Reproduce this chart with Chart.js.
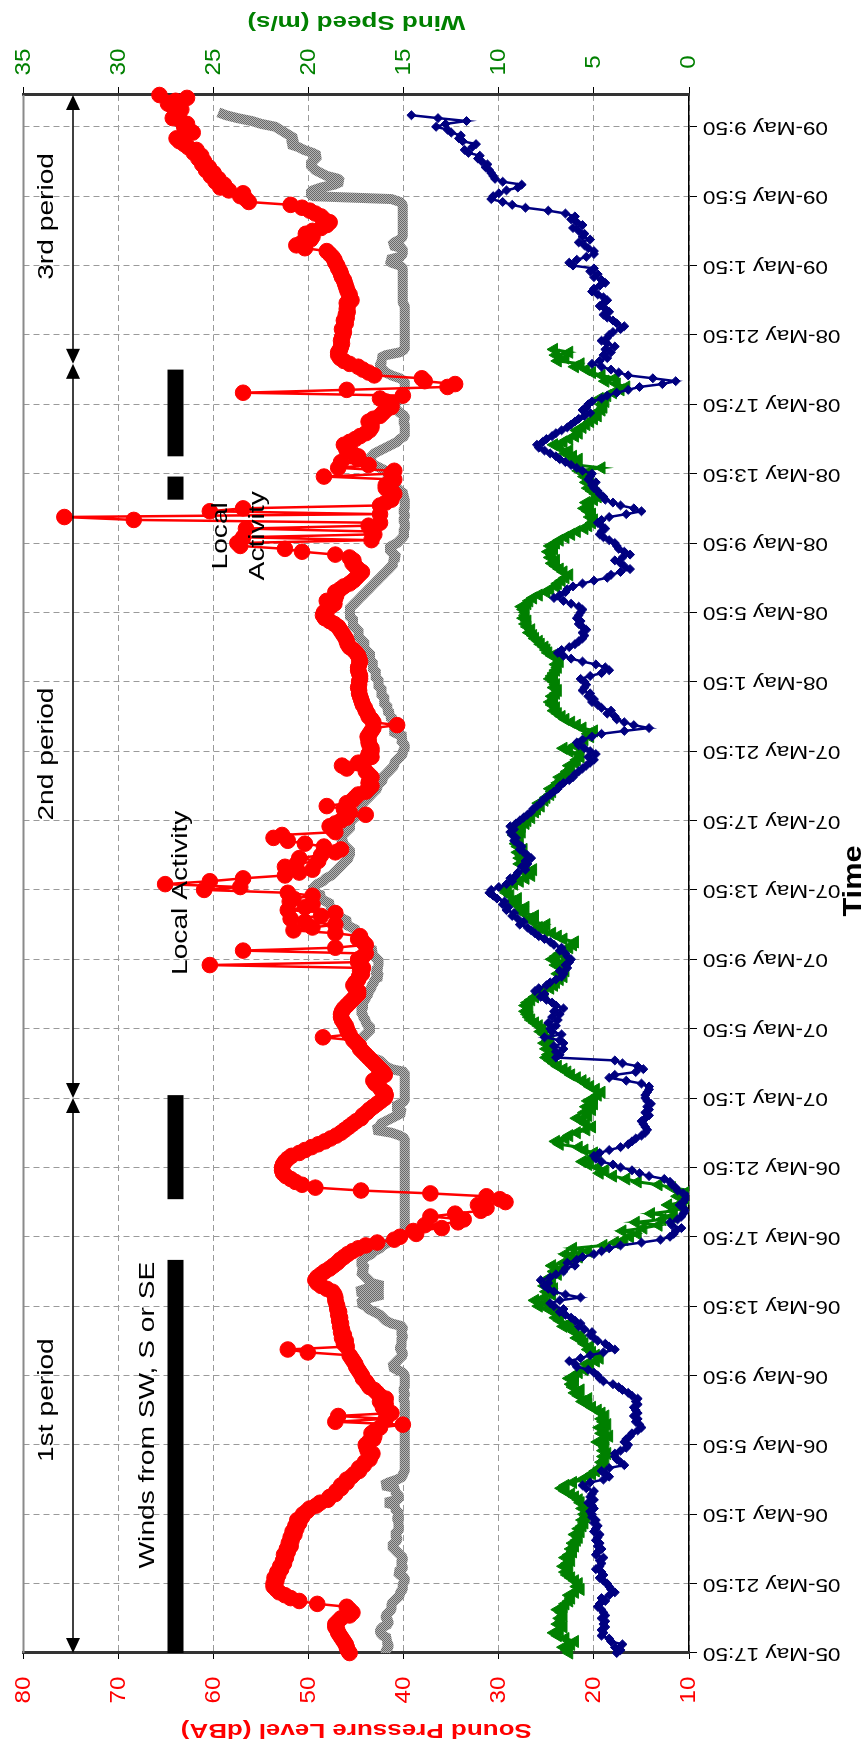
<!DOCTYPE html>
<html>
<head>
<meta charset="utf-8">
<script src="https://cdn.jsdelivr.net/npm/chart.js@4.4.1/dist/chart.umd.min.js"></script>
<style>
  html, body { margin: 0; padding: 0; background: #fff; overflow: hidden; width: 868px; height: 1752px; }
  /* chart is drawn landscape, then turned a quarter turn to the left */
  .chart-wrapper { position: absolute; left: 0; top: 0; width: 1752px; height: 868px;
    transform-origin: 0 0; transform: translateY(1752px) rotate(-90deg); }
</style>
</head>
<body>
<div class="chart-wrapper"><canvas id="myChart" width="1752" height="868"></canvas></div>
<script>
// 10-minute readings from 05-May 17:50, one row = 4 hours
const stepsPerTick = 24;
const nReadings = 540;
const tickLabels = ['05-May 17:50', '05-May 21:50', '06-May 1:50', '06-May 5:50', '06-May 9:50', '06-May 13:50',
  '06-May 17:50', '06-May 21:50', '07-May 1:50', '07-May 5:50', '07-May 9:50', '07-May 13:50', '07-May 17:50',
  '07-May 21:50', '08-May 1:50', '08-May 5:50', '08-May 9:50', '08-May 13:50', '08-May 17:50', '08-May 21:50',
  '09-May 1:50', '09-May 5:50', '09-May 9:50'];
const splTicks = [80, 70, 60, 50, 40, 30, 20, 10];
const windTicks = [35, 30, 25, 20, 15, 10, 5, 0];

// red, dBA
const soundLevel = [
  45.7,45.9,46.0,46.1,46.3,46.5,46.7,46.9,47.0,47.2,47.2,46.9,46.6,45.7,45.4,45.7,46.0,49.1,51.0,51.9,52.5,53.1,53.4,53.7,
  53.7,53.4,53.6,53.2,53.3,52.9,53.0,52.6,52.7,52.4,52.6,52.2,52.3,51.9,52.1,51.8,51.9,51.5,51.7,51.3,51.4,51.0,51.2,50.7,
  50.6,50.2,49.9,49.2,48.8,48.0,47.8,47.2,47.1,46.6,46.6,46.0,46.0,45.5,45.2,44.7,44.7,44.2,44.1,43.6,43.5,43.3,43.8,43.9,
  44.0,43.7,43.2,43.1,43.4,43.0,42.5,40.1,47.2,41.9,46.9,41.3,41.9,42.2,41.9,42.5,41.9,42.5,42.8,43.1,43.6,43.8,44.0,44.3,
  44.4,44.6,44.8,45.0,45.1,45.3,45.5,45.7,50.1,52.2,46.0,46.3,46.1,46.5,46.3,46.6,46.5,46.7,46.6,46.8,46.7,46.9,46.8,47.0,
  47.0,47.1,47.2,47.2,47.3,47.5,48.1,48.7,49.1,49.3,49.1,48.7,48.3,47.8,47.4,47.0,46.7,46.3,45.9,45.4,44.8,44.0,42.8,41.0,
  40.4,38.7,39.0,36.0,37.8,34.3,33.7,37.2,34.6,31.9,31.3,32.2,29.3,29.9,31.3,37.2,44.5,49.3,50.7,51.4,51.9,52.4,52.7,52.8,
  52.8,52.7,52.5,52.2,51.8,51.0,50.4,49.7,49.0,48.3,47.7,47.1,46.6,46.2,45.8,45.4,45.0,44.5,44.3,43.9,43.6,43.2,42.8,42.4,
  42.0,41.9,42.0,42.4,42.6,43.0,43.2,42.8,42.0,42.2,42.5,42.8,43.1,43.4,43.7,44.0,44.3,44.6,44.7,45.0,45.3,48.5,45.7,45.9,
  46.0,46.1,46.3,46.5,46.6,46.6,46.5,46.3,46.0,45.7,45.4,45.1,44.8,44.8,45.1,45.3,45.1,44.8,44.7,44.4,44.6,44.3,60.4,44.8,
  44.8,44.3,44.0,56.9,47.2,44.0,44.3,44.8,44.6,47.2,51.6,49.6,47.2,50.4,51.9,48.7,47.2,52.2,50.4,49.6,52.0,51.6,49.6,52.2,
  61.0,57.2,65.1,60.4,56.9,52.5,51.0,49.6,52.5,51.3,49.0,51.0,48.7,47.2,46.6,48.4,50.4,52.2,53.7,52.8,47.2,47.5,47.8,47.2,
  46.6,46.0,44.0,45.7,46.3,48.1,46.0,45.4,45.1,44.8,44.0,43.7,43.4,43.7,43.6,43.4,43.7,44.0,46.0,46.5,44.8,44.0,43.4,43.7,
  43.4,43.4,43.6,43.7,43.7,43.8,43.6,43.4,43.2,40.7,43.2,43.4,43.7,43.8,44.0,44.1,44.3,44.4,44.5,44.6,44.7,44.7,44.8,44.7,
  44.7,44.6,44.6,44.7,44.8,44.8,44.7,44.6,44.7,44.8,45.0,45.3,45.7,45.9,46.0,46.1,46.3,46.5,46.7,46.9,47.3,47.8,48.3,48.5,
  48.4,48.1,47.7,47.3,48.1,47.2,47.1,47.2,46.7,46.3,45.7,45.3,45.0,44.7,44.4,44.8,45.1,45.4,45.3,45.7,47.2,50.7,52.5,57.2,
  57.5,43.4,56.9,43.1,43.4,56.6,43.7,42.5,68.4,75.7,42.5,60.4,56.9,42.5,41.9,41.3,41.3,41.0,41.3,41.9,41.9,41.3,41.0,48.4,
  41.3,41.0,46.9,43.7,46.6,44.8,44.8,45.4,46.0,46.1,46.3,45.7,45.1,44.6,44.0,43.6,43.4,43.4,43.7,43.2,42.5,42.2,41.9,41.3,
  41.3,41.9,42.5,40.1,56.9,46.0,35.4,34.6,37.8,38.1,43.1,43.7,44.3,44.8,45.7,46.3,46.7,46.9,46.9,46.7,46.6,46.5,46.6,46.5,
  46.4,46.3,46.5,46.3,46.1,46.3,46.0,46.1,45.9,46.0,45.9,46.0,45.5,45.7,45.7,45.9,46.0,46.1,46.2,46.3,46.5,46.6,46.7,46.9,
  47.0,47.2,47.3,47.5,47.8,48.1,50.4,51.3,50.7,49.8,49.6,50.3,49.6,48.7,48.1,47.8,48.4,48.7,49.3,49.9,50.7,51.9,56.3,56.6,
  57.2,56.9,58.4,59.3,58.9,59.8,59.5,60.3,60.0,60.8,60.5,61.2,61.0,61.6,61.3,62.1,61.8,62.7,63.1,63.6,63.9,63.1,62.2,62.6,
  63.1,62.8,63.4,64.3,64.0,63.7,63.4,64.3,64.8,64.0,62.8,65.7
];

// grey band, dBA
const backgroundLevel = [
  41.9,41.9,41.6,41.6,41.9,41.6,42.2,42.5,42.5,42.2,41.6,41.6,41.9,41.9,41.6,41.3,41.3,41.3,41.0,40.7,40.4,40.4,40.1,40.1,
  40.1,39.9,39.9,40.4,40.7,40.1,40.1,40.4,40.1,40.1,40.4,40.7,41.0,41.3,41.0,40.7,40.7,41.0,40.7,40.4,40.7,40.4,40.7,40.7,
  40.4,40.7,41.0,40.7,41.9,40.7,40.4,40.7,41.0,40.7,42.2,41.6,40.7,40.1,40.1,39.9,39.9,39.9,39.9,39.9,39.9,39.9,39.9,39.9,
  39.9,39.9,39.9,39.9,39.9,39.9,39.9,39.9,39.9,39.9,39.9,39.9,39.9,39.9,39.9,39.9,40.1,39.9,39.9,40.1,39.9,39.9,39.9,39.9,
  39.9,40.1,40.7,41.3,41.0,40.7,40.4,40.1,40.1,40.4,40.4,40.1,40.4,40.1,40.1,40.4,40.1,40.1,41.3,41.9,42.2,42.5,43.1,43.7,
  44.0,44.6,44.3,43.4,42.2,44.9,44.0,42.2,43.4,43.7,44.0,44.3,44.6,44.0,44.3,44.6,44.3,44.0,43.4,43.1,42.5,42.2,41.6,40.7,
  40.1,39.9,39.9,39.9,39.9,39.9,39.9,39.9,39.9,39.9,39.9,39.9,39.9,39.9,39.9,39.9,39.9,39.9,39.9,39.9,39.9,39.9,39.9,39.9,
  39.9,39.9,39.9,39.9,39.9,39.9,39.9,39.9,39.9,39.9,39.9,40.4,41.3,43.1,42.5,42.5,41.9,41.3,40.7,40.1,40.4,41.0,40.4,39.9,
  39.9,39.9,39.9,39.9,39.9,39.9,39.9,39.9,39.9,39.9,41.3,41.9,42.2,42.5,43.4,43.7,44.0,44.3,44.6,44.9,44.6,44.3,44.0,43.7,
  43.4,43.7,44.0,44.0,44.3,44.3,44.6,44.3,44.3,44.6,44.0,44.0,43.7,43.7,43.4,43.4,43.1,43.1,42.5,42.8,43.1,42.5,42.8,42.5,
  42.8,43.1,43.4,43.1,43.7,43.7,44.3,44.0,44.6,45.2,44.9,45.5,46.1,45.8,46.4,47.0,46.7,47.3,47.9,47.6,48.2,48.8,48.5,49.4,
  49.7,49.4,49.1,48.5,48.2,47.6,47.3,47.0,46.7,46.4,46.1,45.8,45.8,45.5,45.8,46.1,46.4,46.4,46.7,46.4,46.1,45.8,45.5,45.8,
  45.5,45.2,44.9,44.6,44.3,44.6,44.3,44.0,43.7,43.4,43.1,42.8,42.8,42.5,42.2,42.2,41.9,41.6,41.3,41.0,41.0,40.7,40.4,40.1,
  40.1,39.9,39.9,40.1,40.4,39.9,40.7,41.3,40.7,41.0,41.3,41.0,41.6,41.3,41.9,41.6,41.9,42.2,41.9,42.2,42.5,42.2,42.5,42.8,
  42.5,42.8,43.1,42.8,43.1,43.4,43.1,43.4,43.7,43.4,43.7,44.0,44.3,44.0,44.3,44.6,44.9,44.6,44.9,45.2,45.5,45.2,45.5,45.8,
  45.5,45.8,45.5,45.2,44.9,44.6,44.3,44.0,43.7,43.4,43.1,42.8,42.5,42.2,41.9,41.6,41.3,41.0,41.3,40.7,41.0,41.3,41.6,41.3,
  40.7,40.4,40.1,39.9,40.1,39.9,39.9,39.9,40.1,39.9,39.9,40.1,39.9,39.9,39.9,39.9,40.1,39.9,40.4,40.7,41.0,41.3,41.6,41.9,
  41.3,41.9,42.5,43.1,43.4,43.7,43.4,43.1,42.5,41.9,41.3,40.7,40.4,39.9,39.9,39.9,39.9,39.9,40.1,39.9,39.9,40.4,40.7,41.3,
  41.6,40.7,40.1,39.9,39.9,39.9,39.9,39.9,39.9,40.4,41.3,41.9,42.2,42.5,42.5,42.2,42.5,41.9,40.4,39.9,39.9,39.9,39.9,39.9,
  39.9,39.9,39.9,39.9,39.9,39.9,39.9,39.9,39.9,39.9,39.9,40.1,40.1,40.1,40.1,40.1,40.1,40.1,40.1,40.1,40.1,40.1,40.1,40.1,
  40.4,41.3,41.6,40.4,40.1,40.1,40.1,41.3,41.0,40.4,40.1,40.1,40.1,40.1,40.1,40.1,40.1,40.1,40.1,40.1,40.1,40.1,40.4,41.3,
  49.6,49.9,49.6,48.7,47.3,46.6,46.9,48.1,48.7,49.3,49.6,49.9,49.6,49.3,49.0,49.6,50.5,51.1,52.0,51.7,51.5,52.0,52.5,53.0,
  53.5,55.0,56.0,57.5,58.7,59.5
];

// navy diamonds, m/s
const windSpeedA = [
  3.8,3.6,3.9,3.5,4.1,4.2,4.6,4.5,4.6,4.4,4.5,4.4,4.6,4.4,4.5,4.6,4.8,4.7,4.4,4.6,4.2,3.9,4.1,4.2,
  4.3,4.5,4.7,4.5,4.6,4.9,4.7,4.6,4.7,4.5,4.9,4.8,4.6,4.8,4.7,4.9,4.8,4.7,5.0,4.9,4.8,5.0,4.9,5.1,
  5.1,5.2,5.0,5.1,5.3,5.0,5.2,5.1,5.0,5.4,5.6,5.2,4.5,4.2,4.4,4.6,4.2,3.4,3.6,3.8,3.9,3.9,3.6,3.3,
  3.2,3.4,3.3,3.1,3.0,2.7,2.5,2.6,2.8,2.7,2.9,2.7,2.8,2.9,2.7,2.8,2.7,3.0,3.2,3.5,3.7,4.0,4.5,4.7,
  4.8,5.0,5.3,5.9,6.0,6.3,5.7,5.2,4.5,3.9,4.2,4.4,4.8,5.0,5.2,5.1,5.5,5.8,5.7,6.0,6.2,6.5,6.8,6.6,
  7.1,7.3,6.8,5.7,6.5,7.1,7.4,7.6,7.4,7.8,7.3,7.0,6.6,6.5,6.0,6.4,5.9,5.6,5.0,4.6,4.2,3.6,2.5,1.5,
  1.0,0.8,0.7,0.4,0.9,1.0,0.6,0.4,0.3,0.2,0.3,0.5,0.3,0.2,0.1,0.3,0.6,0.7,0.9,1.0,1.3,2.1,2.6,3.0,
  3.6,4.0,4.6,4.9,5.0,4.7,4.2,3.6,3.2,3.0,2.8,2.5,2.3,2.2,2.3,2.4,2.5,2.3,2.1,2.3,2.1,2.2,2.0,2.2,
  2.3,2.3,2.2,2.1,2.1,2.5,3.3,4.2,3.9,2.8,2.4,2.7,3.5,3.9,7.0,6.8,7.0,6.6,7.1,6.6,6.8,7.6,6.7,7.2,
  7.3,7.0,7.4,6.9,7.2,6.8,7.1,6.6,7.0,7.2,7.5,7.8,7.6,8.1,7.9,7.5,7.3,7.0,6.7,6.6,6.8,6.4,6.5,6.3,
  6.2,6.4,6.5,6.8,6.7,7.1,7.3,7.6,7.9,8.1,8.3,8.5,8.9,8.7,9.0,9.3,9.2,9.6,9.5,9.8,9.7,10.1,10.3,10.5,
  10.4,10.0,9.6,9.3,9.4,9.1,9.0,8.6,8.8,8.5,8.6,8.3,8.5,8.7,8.9,8.8,9.0,9.2,9.1,9.3,9.4,9.2,9.4,9.1,
  8.9,8.7,8.5,8.3,8.2,8.0,7.8,7.7,7.5,7.3,7.1,6.9,6.8,6.6,6.3,6.1,6.0,5.8,5.6,5.4,5.2,5.0,5.3,4.9,
  5.2,5.5,5.8,5.9,5.6,5.1,4.6,3.4,2.1,2.9,3.4,3.8,3.9,4.3,4.1,4.6,4.8,5.1,5.0,5.3,5.2,5.6,5.5,5.4,
  5.5,5.7,5.2,4.6,4.2,4.4,4.9,5.6,6.2,6.6,6.9,6.7,6.3,6.0,5.8,5.6,5.5,5.6,5.4,5.6,5.8,5.7,5.9,5.8,
  5.7,5.6,5.8,6.2,6.6,7.1,6.8,6.5,6.4,6.1,5.6,5.0,4.3,4.1,3.6,3.1,3.4,3.6,3.9,3.5,3.1,3.4,3.7,3.8,
  3.9,4.2,4.5,4.7,4.6,4.4,4.6,4.8,4.6,4.2,3.3,2.5,2.9,3.6,4.0,4.4,4.5,4.7,4.8,5.0,5.1,4.9,5.3,5.2,
  5.1,5.6,5.9,6.2,6.5,6.8,7.0,7.3,7.6,7.9,8.0,7.7,7.5,7.2,7.0,6.7,6.4,6.2,6.0,5.8,5.5,5.2,5.6,5.4,
  5.3,5.1,4.6,4.3,3.8,3.2,2.6,1.4,0.7,1.9,3.2,3.7,4.1,4.6,5.1,4.7,4.3,4.5,4.1,4.4,3.9,4.3,4.6,4.3,
  4.2,4.0,3.6,3.4,3.8,4.0,4.3,4.5,4.2,4.4,4.7,4.5,4.3,4.5,4.8,5.1,5.0,4.7,4.4,4.6,5.0,4.8,5.2,5.0,
  6.1,6.3,5.9,5.4,5.0,5.0,5.3,5.5,5.8,5.2,5.6,5.5,5.8,6.1,5.6,5.9,6.2,6.0,6.5,7.4,8.6,9.3,9.8,10.4,
  10.3,10.0,9.6,9.0,8.8,9.8,10.2,10.3,10.4,10.5,10.7,10.6,10.9,11.1,11.0,11.6,11.8,11.4,11.2,11.9,12.1,12.0,12.5,12.7,
  13.3,12.8,11.7,13.2,14.6
];

// green triangles, m/s
const windSpeedB = [
  6.3,6.4,6.6,6.2,6.0,6.5,6.9,7.1,6.8,6.6,6.9,6.7,6.8,6.6,6.7,6.9,6.6,6.5,6.3,6.2,6.3,6.0,5.7,5.9,
  5.8,6.0,6.2,6.4,6.5,6.3,6.6,6.4,6.2,6.5,6.3,6.1,6.2,6.0,6.1,5.9,5.8,6.0,5.7,5.8,5.6,5.5,5.6,5.4,
  5.5,5.3,5.6,5.4,5.7,5.8,6.0,6.2,6.5,6.7,6.5,6.1,5.6,5.3,5.1,4.9,4.7,4.5,4.6,4.4,4.5,4.3,4.5,4.4,
  4.5,4.8,4.4,4.2,4.6,4.4,4.7,4.3,4.5,4.6,4.4,4.6,4.8,5.1,5.3,5.6,5.3,5.8,6.0,5.7,6.1,6.2,6.0,6.3,
  6.0,5.8,5.5,5.2,5.4,4.9,4.7,4.9,5.1,5.3,5.2,5.5,5.6,5.9,5.7,6.0,6.2,6.6,6.3,6.8,7.0,6.8,7.1,7.4,
  7.9,7.5,8.1,7.6,7.2,7.5,7.1,7.6,7.2,7.5,7.3,6.9,7.1,6.7,7.2,6.6,6.2,5.8,6.5,5.3,6.1,4.5,3.9,3.4,
  3.1,2.7,3.5,2.4,1.6,2.8,1.4,0.9,2.0,0.8,0.4,1.1,0.3,0.1,0.6,0.2,0.0,0.9,1.6,2.7,3.3,4.0,4.7,4.4,
  4.8,5.3,5.6,5.2,4.8,5.0,5.5,5.8,6.8,7.0,6.5,6.3,5.9,5.4,5.1,5.4,5.6,5.9,5.3,5.5,5.1,5.4,5.0,5.3,
  5.0,4.8,4.6,4.9,5.2,5.4,5.6,5.9,6.2,6.4,6.6,6.9,7.1,7.3,7.5,7.4,7.2,7.5,7.3,7.6,7.4,7.3,7.6,7.8,
  7.7,7.9,8.1,8.3,8.4,8.5,8.6,8.4,8.6,8.5,8.3,8.1,7.9,7.6,7.3,7.1,7.0,6.8,6.6,6.9,6.5,6.7,7.0,6.6,
  7.2,7.0,6.8,6.6,6.3,6.1,6.0,6.6,6.9,7.2,7.6,7.9,7.5,8.2,8.4,8.1,8.7,8.9,8.6,9.1,9.3,9.0,9.4,9.6,
  9.7,9.5,9.2,8.9,8.6,8.3,8.6,8.2,8.6,8.9,8.7,8.9,8.8,9.0,8.7,9.0,9.1,8.9,9.0,9.2,8.8,9.1,8.8,8.6,
  8.5,8.3,8.4,8.1,8.0,7.8,7.9,7.6,7.5,7.3,7.2,7.3,7.0,6.9,6.7,6.8,6.5,6.4,6.2,6.3,6.0,5.9,5.7,5.8,
  6.3,6.6,6.0,5.7,5.5,5.2,5.3,5.0,5.6,5.9,6.2,6.5,6.7,6.9,7.1,7.0,7.2,7.3,7.1,7.2,7.0,6.9,7.1,7.0,
  7.1,7.3,7.2,7.1,7.0,6.9,7.0,6.8,6.9,7.2,7.4,7.5,7.6,7.8,7.9,8.1,8.2,8.4,8.3,8.5,8.6,8.5,8.7,8.6,
  8.6,8.7,8.8,8.5,8.4,8.2,7.9,7.5,7.3,7.0,6.9,6.7,6.5,6.3,6.6,6.8,7.0,7.2,7.0,7.3,7.2,7.4,7.1,7.3,
  7.0,6.8,6.5,6.2,5.9,5.5,5.3,5.1,5.0,5.2,5.1,5.3,5.5,5.2,5.4,5.0,4.8,4.9,5.1,5.3,5.0,5.4,5.2,5.5,
  5.3,5.8,4.6,5.9,6.2,5.8,6.1,6.5,6.3,6.8,7.1,6.6,6.3,6.0,5.8,5.9,5.6,5.4,5.2,5.0,4.8,4.9,4.6,4.5,
  4.6,4.4,4.7,4.3,4.0,3.6,3.3,3.8,4.4,3.9,4.6,5.1,5.4,6.0,5.7,6.9,6.5,7.0,6.3,7.1
];

// black bar at 64 dBA: readings with winds from SW, S or SE
const swWindLevel = 64;
const swWindPeriods = [[0, 136], [157, 193], [399, 407], [414, 444]];

// period arrows (reading index of each boundary)
const periodEdges = [0, 192, 446, 539];
const periodNames = ['1st period', '2nd period', '3rd period'];
const periodLabelAt = [87.5, 311, 497];
const notes = [
  { text: 'Winds from SW, S or SE', at: 82.3, level: 66.9 },
  { text: 'Local Activity', at: 263, level: 63.4 },
  { text: 'Local', at: 386.5, level: 59.2 },
  { text: 'Activity', at: 386.5, level: 55.3 }
];

const pad = arr => arr.concat(new Array(Math.max(0, nReadings - arr.length)).fill(null));
const labels = [];
for (let i = 0; i < nReadings; i++) labels.push(i % stepsPerTick === 0 ? tickLabels[i / stepsPerTick] : '');
const swWind = new Array(nReadings).fill(null);
swWindPeriods.forEach(([a, b]) => { for (let i = a; i <= b; i++) swWind[i] = swWindLevel; });

const FONT = '"Liberation Sans", Arial, sans-serif';
const TX = 1.28; // text in the picture runs wide

const canvas = document.getElementById('myChart');
const pc = document.createElement('canvas');
pc.width = 2; pc.height = 2;
const pctx = pc.getContext('2d');
pctx.fillStyle = '#6a6a6a'; pctx.fillRect(0, 0, 2, 2);
pctx.fillStyle = '#b4b4b4'; pctx.fillRect(0, 0, 1, 1); pctx.fillRect(1, 1, 1, 1);
const greyPattern = canvas.getContext('2d').createPattern(pc, 'repeat');

function drawText(ctx, text, x, y, o) {
  ctx.save();
  ctx.translate(x, y);
  if (o.rot) ctx.rotate(o.rot);
  ctx.scale(o.sx || TX, 1);
  ctx.font = o.font;
  ctx.fillStyle = o.color || '#000';
  ctx.textAlign = o.align || 'center';
  ctx.textBaseline = o.base || 'middle';
  ctx.fillText(text, 0, 0);
  ctx.restore();
}

function arrowHead(ctx, tip, y, dir) {
  ctx.beginPath();
  ctx.moveTo(tip, y);
  ctx.lineTo(tip - dir * 15, y - 7);
  ctx.lineTo(tip - dir * 15, y + 7);
  ctx.closePath();
  ctx.fill();
}

const decorations = {
  id: 'decorations',
  afterDatasetsDraw(chart) {
    const { ctx, scales: { x, y } } = chart;
    ctx.save();
    ctx.strokeStyle = '#000';
    ctx.fillStyle = '#000';
    ctx.lineWidth = 1.5;
    const ay = y.getPixelForValue(74.8);
    for (let k = 0; k < periodNames.length; k++) {
      const xa = x.getPixelForValue(periodEdges[k]);
      const xb = x.getPixelForValue(periodEdges[k + 1]);
      ctx.beginPath();
      ctx.moveTo(xa + 10, ay);
      ctx.lineTo(xb - 10, ay);
      ctx.stroke();
      arrowHead(ctx, xa, ay, -1);
      arrowHead(ctx, xb, ay, 1);
      drawText(ctx, periodNames[k], x.getPixelForValue(periodLabelAt[k]), y.getPixelForValue(77.5),
        { font: '22px ' + FONT });
    }
    notes.forEach(n => drawText(ctx, n.text, x.getPixelForValue(n.at), y.getPixelForValue(n.level),
      { font: '22px ' + FONT }));
    ctx.restore();
  },
  afterDraw(chart) {
    const { ctx, chartArea: a, scales: { x, y, y1 } } = chart;
    ctx.save();
    ctx.strokeStyle = '#8a8a8a';
    ctx.lineWidth = 2;
    ctx.beginPath();
    ctx.moveTo(a.left, a.top);
    ctx.lineTo(a.right, a.top);
    ctx.stroke();
    tickLabels.forEach((t, k) => drawText(ctx, t, x.getPixelForValue(k * stepsPerTick), a.bottom + 14,
      { rot: -Math.PI / 2, align: 'right', font: '18px ' + FONT, sx: 1.25 }));
    splTicks.forEach(v => drawText(ctx, String(v), 62, y.getPixelForValue(v),
      { font: '22px ' + FONT, color: '#ff0000', sx: 1.1 }));
    windTicks.forEach(v => drawText(ctx, String(v), 1690, y1.getPixelForValue(v),
      { font: '22px ' + FONT, color: '#008000', sx: 1.1 }));
    const mid = (a.top + a.bottom) / 2;
    drawText(ctx, 'Sound Pressure Level (dBA)', 22, mid,
      { rot: -Math.PI / 2, font: 'bold 20px ' + FONT, color: '#ff0000', sx: 1.3 });
    drawText(ctx, 'Wind Speed (m/s)', 1730, mid,
      { rot: -Math.PI / 2, font: 'bold 20px ' + FONT, color: '#008000', sx: 1.3 });
    drawText(ctx, 'Time', 871, 854, { font: 'bold 25px ' + FONT, sx: 1.23 });
    ctx.restore();
  }
};

const data = {
  labels: labels,
  datasets: [
    { label: 'Sound level', data: pad(soundLevel), yAxisID: 'y', order: 1,
      borderColor: '#ff0000', backgroundColor: '#ff0000', borderWidth: 2.5, borderJoinStyle: 'round',
      pointStyle: 'circle', pointRadius: 7.8, pointBorderWidth: 1, clip: false },
    { label: 'Wind speed A', data: pad(windSpeedA), yAxisID: 'y1', order: 2,
      borderColor: '#000080', backgroundColor: '#000080', borderWidth: 2.5,
      pointStyle: 'rectRot', pointRadius: 4.5, pointBorderWidth: 1 },
    { label: 'Wind speed B', data: pad(windSpeedB), yAxisID: 'y1', order: 3,
      borderColor: '#008000', backgroundColor: '#008000', borderWidth: 3,
      pointStyle: 'triangle', pointRadius: 7, pointBorderWidth: 1 },
    { label: 'Background level', data: pad(backgroundLevel), yAxisID: 'y', order: 4,
      borderColor: greyPattern, borderWidth: 10, borderJoinStyle: 'bevel', pointRadius: 0 },
    { label: 'Winds from SW, S or SE', data: swWind, yAxisID: 'y', order: 5,
      borderColor: '#000', borderWidth: 16, borderCapStyle: 'butt', pointRadius: 0 }
  ]
};

const config = {
  type: 'line',
  data: data,
  options: {
    responsive: false,
    animation: false,
    devicePixelRatio: 1,
    spanGaps: false,
    layout: { padding: { top: 23.5, left: 0, right: 0, bottom: 0 } },
    plugins: { legend: { display: false }, tooltip: { enabled: false } },
    scales: {
      x: {
        type: 'category', offset: false,
        ticks: { display: false, autoSkip: false },
        grid: { color: '#9a9a9a', lineWidth: 1, tickLength: 8, tickColor: '#000', tickWidth: 1, tickBorderDash: [] },
        border: { color: '#000', width: 1.5, dash: [6, 4] },
        afterBuildTicks: s => { s.ticks = s.ticks.filter(t => t.value % stepsPerTick === 0); },
        afterFit: s => { s.height = 868 - 689; }
      },
      y: {
        position: 'left', min: 10, max: 80,
        ticks: { display: false, stepSize: 10 },
        grid: { color: '#9a9a9a', lineWidth: 1, tickLength: 6, tickColor: '#000', tickWidth: 1, tickBorderDash: [] },
        border: { color: '#333', width: 3, dash: [6, 4] },
        afterFit: s => { s.width = 99; }
      },
      y1: {
        position: 'right', min: 0, max: 35,
        ticks: { display: false, stepSize: 5 },
        grid: { drawOnChartArea: false, tickLength: 8, tickColor: '#000', tickWidth: 1 },
        border: { color: '#333', width: 3 },
        afterFit: s => { s.width = 95; }
      }
    }
  },
  plugins: [decorations]
};

const myChart = new Chart(canvas, config);
</script>
</body>
</html>
